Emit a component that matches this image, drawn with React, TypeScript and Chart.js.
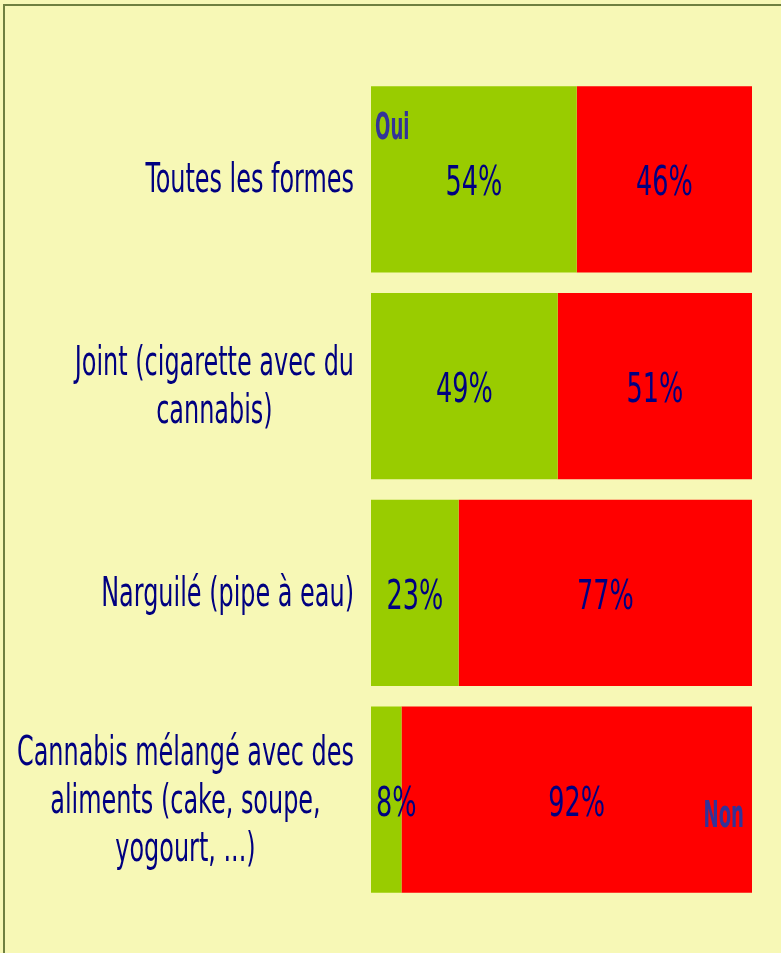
import React, { useEffect, useRef } from "react";
import { Chart, registerables } from "chart.js";

Chart.register(...registerables);

const categories: string[][] = [
  ["Toutes les formes"],
  ["Joint (cigarette avec du", "cannabis)"],
  ["Narguilé (pipe à eau)"],
  ["Cannabis mélangé avec des", "aliments (cake, soupe,", "yogourt, ...)"],
];
const seriesNames = ["Oui", "Non"];
const ouiValues = [54, 49, 23, 8];
const nonValues = [46, 51, 77, 92];

const GREEN = "#99cc00";
const RED = "#ff0000";
const NAVY = "#000080";
const LEGEND_NAVY = "#333399";
const BG = "#f7f8b6";
const BORDER = "#6f8040";

const FONT_FAMILY = '"DejaVu Sans Condensed", "Liberation Sans Narrow", sans-serif';
const FS = 40;
const SX_CAT = 0.665;
const SX_VAL = 0.71;
const SX_NAME = 0.53;
const LH = 48;

function drawScaled(ctx: CanvasRenderingContext2D, text: string, x: number, y: number, align: CanvasTextAlign, sx: number) {
  ctx.save();
  ctx.translate(x, y);
  ctx.scale(sx, 1);
  ctx.textAlign = align;
  ctx.fillText(text, 0, 0);
  ctx.restore();
}

const labelPlugin = {
  id: "customLabels",
  afterDatasetsDraw(chart: any) {
    const ctx: CanvasRenderingContext2D = chart.ctx;
    const yScale = chart.scales.y;
    const area = chart.chartArea;
    ctx.save();
    ctx.textBaseline = "alphabetic";
    // category labels
    ctx.fillStyle = NAVY;
    ctx.font = `${FS}px ${FONT_FAMILY}`;
    categories.forEach((lines, i) => {
      const cy = yScale.getPixelForValue(i);
      const bw = Math.max(...lines.map((l) => ctx.measureText(l).width * SX_CAT));
      const cx = area.left - 17 - bw / 2;
      lines.forEach((l, j) => {
        const base = cy + (j - (lines.length - 1) / 2) * LH + 13;
        drawScaled(ctx, l, cx, base, "center", SX_CAT);
      });
    });
    // value labels
    chart.data.datasets.forEach((ds: any, di: number) => {
      const meta = chart.getDatasetMeta(di);
      meta.data.forEach((el: any, i: number) => {
        const txt = `${ds.data[i]}%`;
        const w = ctx.measureText(txt).width * SX_VAL;
        const start = Math.min(el.x, el.base);
        const cx = Math.max((el.x + el.base) / 2, start + w / 2 + 5);
        drawScaled(ctx, txt, cx, el.y + 16, "center", SX_VAL);
      });
    });
    // series names
    ctx.fillStyle = LEGEND_NAVY;
    ctx.font = `bold 38px ${FONT_FAMILY}`;
    const first = chart.getDatasetMeta(0).data[0];
    drawScaled(ctx, seriesNames[0], first.base + 4, first.y - 40, "left", SX_NAME);
    const lastMeta = chart.getDatasetMeta(1);
    const last = lastMeta.data[lastMeta.data.length - 1];
    drawScaled(ctx, seriesNames[1], last.x - 8, last.y + 27, "right", SX_NAME);
    ctx.restore();
  },
};

export default function App() {
  const ref = useRef<HTMLCanvasElement | null>(null);
  useEffect(() => {
    document.body.style.margin = "0";
    if (!ref.current) return;
    const chart = new Chart(ref.current, {
      type: "bar",
      data: {
        labels: categories.map((c) => c.join(" ")),
        datasets: [
          { label: seriesNames[0], data: ouiValues, backgroundColor: GREEN, barPercentage: 0.9, categoryPercentage: 1 },
          { label: seriesNames[1], data: nonValues, backgroundColor: RED, barPercentage: 0.9, categoryPercentage: 1 },
        ],
      },
      options: {
        indexAxis: "y",
        animation: false,
        responsive: false,
        layout: { padding: { left: 371, right: 29, top: 76, bottom: 50 } },
        plugins: { legend: { display: false }, tooltip: { enabled: false } },
        scales: {
          x: { stacked: true, min: 0, max: 100, display: false },
          y: { stacked: true, display: false },
        },
      },
      plugins: [labelPlugin],
    });
    return () => chart.destroy();
  }, []);
  return (
    <div style={{ position: "relative", width: 781, height: 953, background: BG, overflow: "hidden" }}>
      <div
        style={{
          position: "absolute",
          left: 3,
          top: 4,
          width: 900,
          height: 1100,
          borderLeft: `2px solid ${BORDER}`,
          borderTop: `2px solid ${BORDER}`,
        }}
      />
      <canvas ref={ref} width={781} height={953} style={{ position: "absolute", left: 0, top: 0, width: 781, height: 953 }} />
    </div>
  );
}
